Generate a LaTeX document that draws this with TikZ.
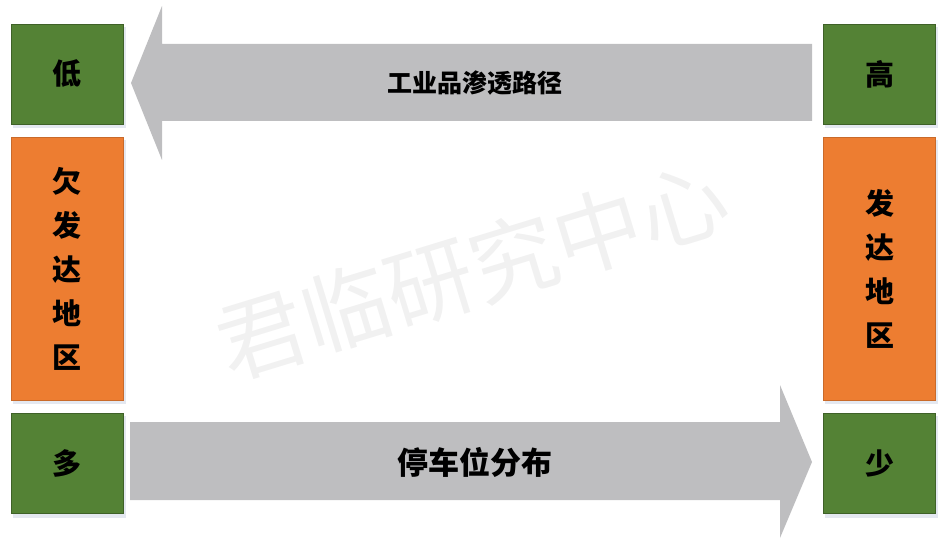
\documentclass[tikz,border=0pt]{standalone}
\usepackage{fontspec}
\setmainfont{Noto Sans CJK SC}
\definecolor{boxgreen}{RGB}{84,130,53}
\definecolor{boxorange}{RGB}{237,125,49}
\definecolor{arrowgray}{RGB}{190,190,192}
\definecolor{shadowgray}{RGB}{228,232,240}
\begin{document}
\begin{tikzpicture}[x=1pt,y=-1pt,
    greenbox/.style={fill=boxgreen, draw=boxgreen!75!black, line width=0.6pt,
      minimum width=112pt, minimum height=100pt, inner sep=0pt,
      font=\bfseries\fontsize{29}{29}\selectfont},
    orangebox/.style={fill=boxorange, draw=boxorange!85!black, line width=0.6pt,
      minimum width=112pt, minimum height=263pt, inner sep=0pt, align=center,
      font=\bfseries\fontsize{29}{44}\selectfont},
    shade box/.style={fill=shadowgray},
    arrowbody/.style={fill=arrowgray},
    arrowlabel/.style={font=\bfseries\fontsize{#1}{#1}\selectfont}]
    \useasboundingbox (0,0) rectangle (948,556);

    % watermark
    \node[rotate=17, text=gray!11, font=\fontsize{88}{88}\selectfont] (mark) at (472,270) {君临研究中心};

    % shadows
    \fill[shade box] (13,27) rectangle (126,128);
    \fill[shade box] (13,140) rectangle (126,404);
    \fill[shade box] (13,416) rectangle (126,518);
    \fill[shade box] (825,27) rectangle (938,128);
    \fill[shade box] (825,140) rectangle (938,404);
    \fill[shade box] (825,416) rectangle (938,518);

    % left column
    \node[greenbox] (low) at (67,74) {低};
    \node[orangebox] (poor) at (67,268.5) {欠\\发\\达\\地\\区};
    \node[greenbox] (many) at (67,463.5) {多};

    % right column
    \node[greenbox] (high) at (879.5,74) {高};
    \node[orangebox] (rich) at (879.5,268.5) {发\\达\\地\\区};
    \node[greenbox] (few) at (879.5,463.5) {少};

    % upper arrow
    \fill[arrowbody] (812,44) -- (162,44) -- (162,6) -- (131,83) -- (162,160)
        -- (162,121) -- (812,121) -- cycle;
    \node[arrowlabel=25] (path) at (475,83) {工业品渗透路径};

    % lower arrow
    \fill[arrowbody] (130,422) -- (780,422) -- (780,385) -- (812,462) -- (780,538)
        -- (780,500) -- (130,500) -- cycle;
    \node[arrowlabel=31] (park) at (475,462) {停车位分布};
\end{tikzpicture}
\end{document}
